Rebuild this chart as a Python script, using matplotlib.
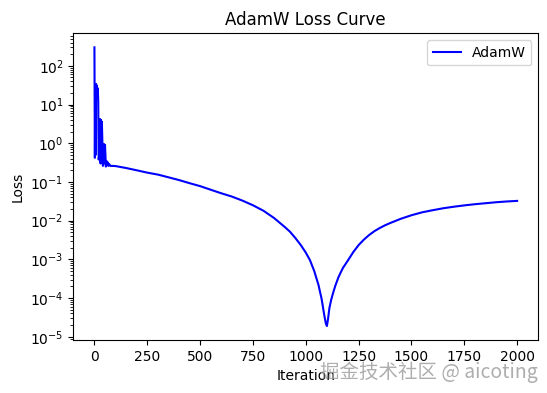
import matplotlib
matplotlib.use("Agg")
import matplotlib.pyplot as plt
import numpy as np

# values
iterations = [0, 2, 4, 6, 8, 10, 12, 14, 16, 18, 20, 24, 27, 29, 31, 33, 35, 37,
              40, 44, 46, 48, 50, 52, 54, 57, 60, 63, 66, 70, 75, 85,
              100, 150, 200, 250, 300, 350, 400, 450, 500, 550, 600, 650,
              700, 750, 800, 850, 900, 925, 950, 975, 1000, 1020, 1040, 1060,
              1075, 1088, 1095, 1100, 1105, 1112, 1120, 1130, 1140, 1155, 1175,
              1200, 1225, 1250, 1275, 1300, 1325, 1350, 1375, 1400, 1450, 1500,
              1550, 1600, 1650, 1700, 1750, 1800, 1850, 1900, 1950, 2000]
loss = [300, 0.42, 28, 0.5, 34, 22, 30, 18, 26, 12, 0.38, 0.5, 4.2, 0.3, 4.0, 2.5, 3.6, 1.5,
        0.26, 0.4, 0.95, 0.3, 0.9, 0.5, 0.25, 0.35, 0.27, 0.32, 0.26, 0.29, 0.26, 0.26,
        0.257, 0.229, 0.2, 0.174, 0.155, 0.132, 0.112, 0.093, 0.078, 0.063, 0.051, 0.042,
        0.033, 0.025, 0.018, 0.0117, 0.0069, 0.0052, 0.0036, 0.0024, 0.0015, 9.5e-4, 5e-4, 2.2e-4,
        9.5e-5, 3.5e-5, 2.2e-5, 1.9e-5, 2.8e-5, 5.6e-5, 8.9e-5, 1.4e-4, 2.1e-4, 3.5e-4, 5.9e-4,
        9.5e-4, 1.55e-3, 2.34e-3, 3.24e-3, 4.27e-3, 5.37e-3, 6.46e-3, 7.59e-3, 8.71e-3, 1.12e-2, 1.38e-2,
        1.64e-2, 1.86e-2, 2.09e-2, 2.29e-2, 2.48e-2, 2.66e-2, 2.82e-2, 2.99e-2, 3.13e-2, 3.24e-2]

fig, ax = plt.subplots(figsize=(5.47, 3.93), dpi=100)
fig.subplots_adjust(left=0.134, right=0.984, top=0.915, bottom=0.135)

ax.plot(iterations, loss, color='b', lw=1.5, label='AdamW')
ax.set_yscale('log')
ax.set_title('AdamW Loss Curve')
ax.set_xlabel('Iteration')
ax.set_ylabel('Loss')
ax.legend(loc='upper right')

# watermark
fig.text(0.983, 0.053, '掘金技术社区 @ aicoting', ha='right', va='center',
         fontsize=14, color='#a0a0a0', alpha=0.85,
         family=['Noto Sans CJK SC', 'DejaVu Sans'])

fig.savefig('out.png', dpi=100)
